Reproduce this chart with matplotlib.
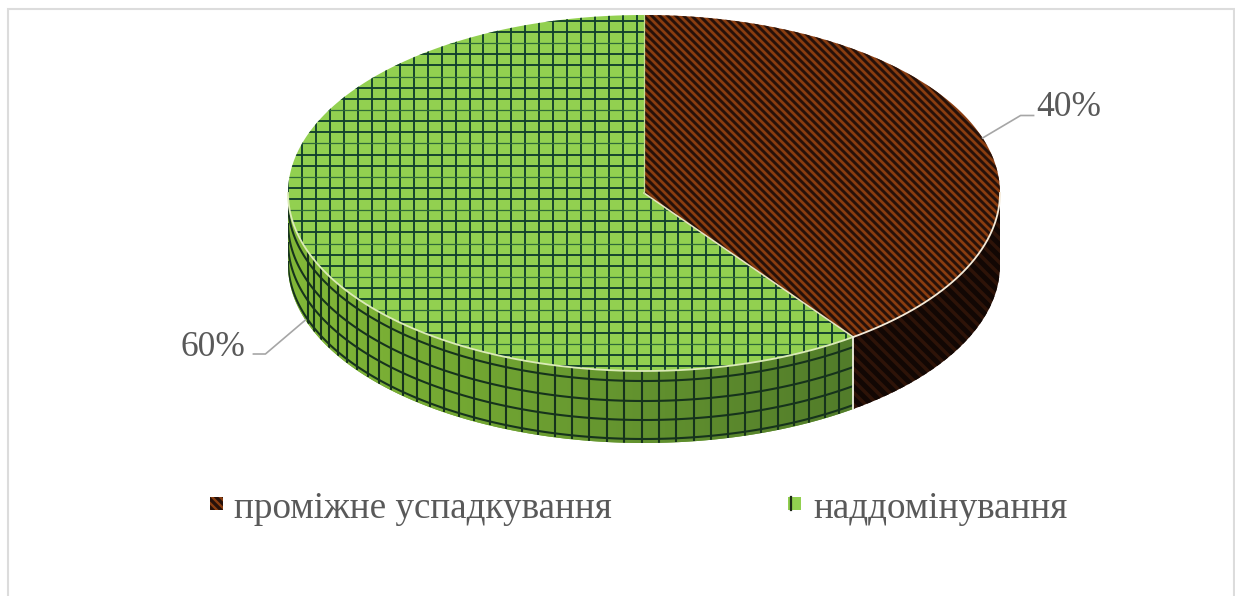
# Two-slice "3D" pie with patterned fills, drawn on a pixel-sized axes

import numpy as np
import matplotlib.pyplot as plt
from matplotlib.collections import LineCollection
from matplotlib.colors import LinearSegmentedColormap
from matplotlib.patches import Polygon, Rectangle

categories = ['проміжне успадкування', 'наддомінування']
shares = [40, 60]

plt.rcParams['font.family'] = ['Liberation Serif', 'DejaVu Serif']

###### GEOMETRY ######

CX, CY = 644, 193      # centre of the top face
RX, RY = 356, 178      # radii of the top face
DEPTH = 72             # height of the disc

TEXT_COL = '#595959'
LEADER_COL = '#a6a6a6'
BROWN = '#8a3d10'
BROWN_DARK = '#26110a'
GREEN = '#92d050'
GRID_DARK = '#12402c'


def rim(theta, drop=0):
    # theta in degrees, clockwise from the top of the ellipse
    t = np.radians(theta)
    return CX + RX * np.sin(t), CY - RY * np.cos(t) + drop


def arc(t0, t1, drop=0, n=200):
    x, y = rim(np.linspace(t0, t1, n), drop)
    return np.column_stack([x, y])


def stripes(ax, clip, period, width, color, phase=0):
    # diagonal lines going down to the right, clipped to a patch
    offsets = np.arange(-700, 1300, period) + phase
    segs = [[(c, 0), (c + 596, 596)] for c in offsets]
    lc = LineCollection(segs, colors=color, linewidths=width, zorder=clip.get_zorder() + 0.1)
    ax.add_collection(lc)
    lc.set_clip_path(clip)


def green_grid(ax, clip):
    # flat grid of the top face, every third row comes out fainter
    columns = 636.7 + 13.93 * np.arange(-26, 17)
    segs_v = [[(x, 0), (x, 596)] for x in columns]
    lc = LineCollection(segs_v, colors=GRID_DARK, linewidths=1.35, zorder=clip.get_zorder() + 0.1)
    ax.add_collection(lc)
    lc.set_clip_path(clip)
    for k, y in enumerate(np.arange(-12.6, 380, 11.14)):
        faint = k % 3 == 2
        line, = ax.plot([280, 860], [y, y], color='#2f6a38' if faint else GRID_DARK,
                        lw=0.9 if faint else 1.35, zorder=clip.get_zorder() + 0.1)
        line.set_clip_path(clip)


###### DRAWING ######

fig = plt.figure(figsize=(12.35, 5.96), dpi=100)
ax = fig.add_axes([0, 0, 1, 1])

# chart frame, its bottom edge falls outside the canvas
ax.add_patch(Rectangle((8, 8.5), 1226, 620, fc='white', ec='#dcdcdc', lw=1.5, zorder=0))

boundary = 360 * shares[0] / sum(shares)

# side wall, only the front half of the disc shows
side_brown = Polygon(np.vstack([arc(90, boundary), arc(boundary, 90, DEPTH)]),
                     closed=True, fc='#2e1308', ec='none', zorder=1)
side_green = Polygon(np.vstack([arc(boundary, 270), arc(270, boundary, DEPTH)]),
                     closed=True, fc='#6a9e30', ec='none', zorder=1)
ax.add_patch(side_brown)
ax.add_patch(side_green)

shade = LinearSegmentedColormap.from_list('shade', ['#82b838', '#72a632', '#608f2e', '#527c2a'])
img = ax.imshow(np.linspace(0, 1, 256).reshape(1, -1), cmap=shade, aspect='auto',
                extent=(rim(270)[0], rim(boundary)[0], CY + RY + DEPTH + 5, CY - 5), zorder=1.05)
img.set_clip_path(side_green)

stripes(ax, side_brown, 12, 3.6, '#120704', phase=3)

# curved grid on the green wall
wall = [arc(boundary, 270, drop) for drop in [10, 30, 49, 68]]
phi_step = np.degrees(0.049)
for phi in 180.4 + phi_step * np.arange(-13, 26):
    if boundary < phi < 252:
        wall.append(np.vstack([arc(phi, phi, 0, 1), arc(phi, phi, DEPTH, 1)]))
wall_lines = LineCollection(wall, colors='#16331c', linewidths=1.5, zorder=1.2)
ax.add_collection(wall_lines)
wall_lines.set_clip_path(side_green)

# top face
apex = np.array([[CX, CY]])
top_brown = Polygon(np.vstack([apex, arc(0, boundary)]), closed=True, fc=BROWN, ec='none', zorder=2)
top_green = Polygon(np.vstack([apex, arc(boundary, 360)]), closed=True, fc=GREEN, ec='none', zorder=2)
ax.add_patch(top_brown)
ax.add_patch(top_green)
stripes(ax, top_brown, 8, 2.1, BROWN_DARK)
green_grid(ax, top_green)

# light seams between the faces
edge_x, edge_y = rim(boundary)
ax.plot(*arc(90, boundary).T, color='#f4ead8', lw=1.3, zorder=3)
ax.plot(*arc(boundary, 270).T, color='#dcebb8', lw=1.3, zorder=3)
ax.plot([CX, edge_x], [CY, edge_y], color='#e8e4c4', lw=1.1, zorder=3)
ax.plot([CX, CX], [CY, CY - RY], color='#c4dc98', lw=0.9, zorder=3)
ax.plot([edge_x, edge_x], [edge_y, edge_y + DEPTH], color='#f0efe0', lw=1.3, zorder=3)

# value labels with leader lines from the middle of each slice
x40, y40 = rim(boundary / 2)
ax.plot([x40, x40 + 38, x40 + 51], [y40, y40 - 22.5, y40 - 22.5], color=LEADER_COL, lw=1.2, zorder=4)
ax.text(1069, 116.5, f'{shares[0]}%', color=TEXT_COL, fontsize=25.5, ha='center', va='baseline')

x60, y60 = rim((boundary + 360) / 2, DEPTH)
ax.plot([x60, x60 - 40, x60 - 52], [y60, y60 + 34, y60 + 34], color=LEADER_COL, lw=1.2, zorder=4)
ax.text(212.5, 355.5, f'{shares[1]}%', color=TEXT_COL, fontsize=25.5, ha='center', va='baseline')

# legend
key_brown = Rectangle((209.5, 497), 13, 13, fc=BROWN, ec='none', zorder=2)
ax.add_patch(key_brown)
stripes(ax, key_brown, 8, 2.4, BROWN_DARK, phase=3)
ax.text(234, 517.5, categories[0], color=TEXT_COL, fontsize=26.7, ha='left', va='baseline')

key_green = Rectangle((787.5, 497), 13, 13, fc=GREEN, ec='none', zorder=2)
ax.add_patch(key_green)
ax.plot([790.5, 790.5], [497, 510], color='#1e2a18', lw=1.6, zorder=3)
ax.text(813, 517.5, categories[1], color=TEXT_COL, fontsize=26.7, ha='left', va='baseline')

ax.set_xlim(0, 1235)
ax.set_ylim(596, 0)
ax.axis('off')

fig.savefig('out.png', dpi=100, facecolor='white')
